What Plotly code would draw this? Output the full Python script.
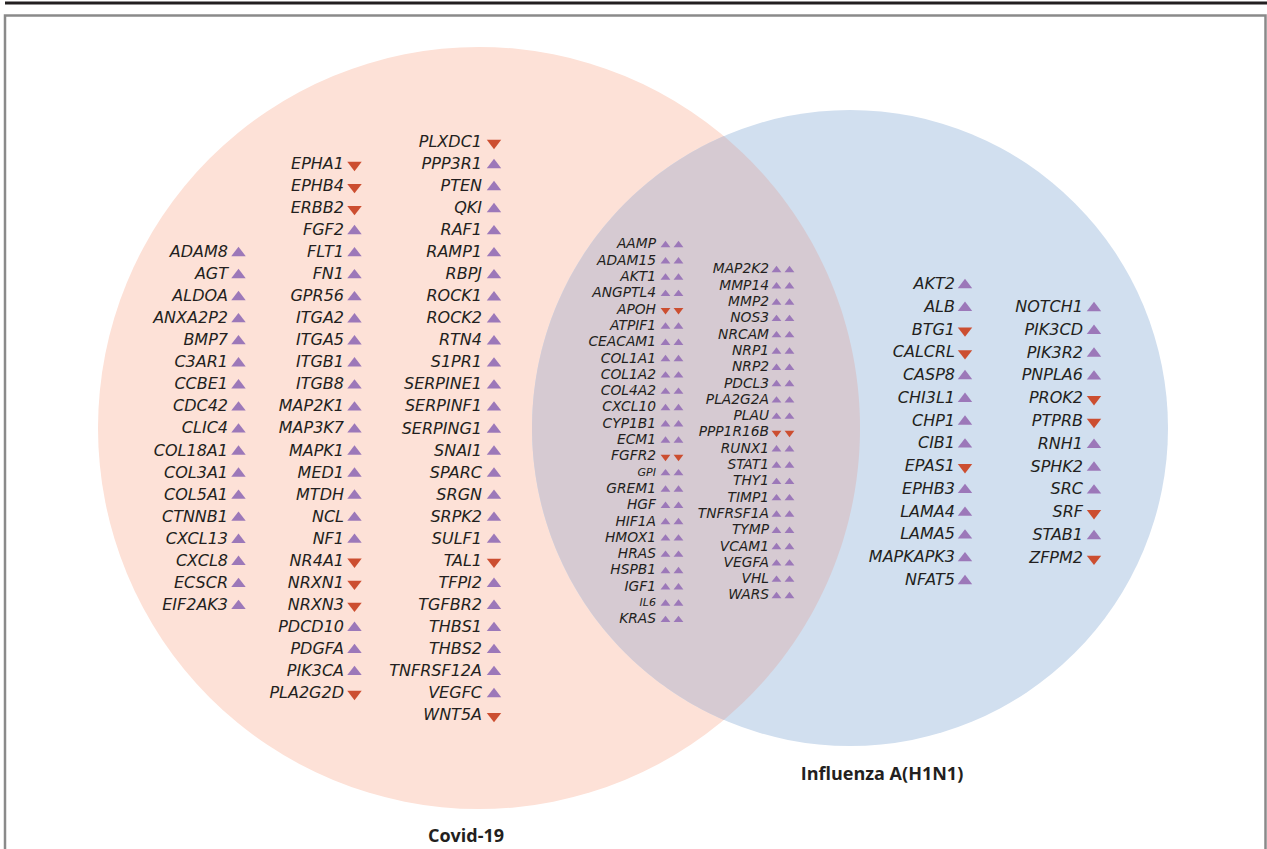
import numpy as np
import plotly.graph_objects as go

# ---------------- data ----------------
covid_col1_genes = ["ADAM8", "AGT", "ALDOA", "ANXA2P2", "BMP7", "C3AR1", "CCBE1", "CDC42", "CLIC4",
                    "COL18A1", "COL3A1", "COL5A1", "CTNNB1", "CXCL13", "CXCL8", "ECSCR", "EIF2AK3"]
covid_col1_dir = ["up"] * 17

covid_col2_genes = ["EPHA1", "EPHB4", "ERBB2", "FGF2", "FLT1", "FN1", "GPR56", "ITGA2", "ITGA5", "ITGB1",
                    "ITGB8", "MAP2K1", "MAP3K7", "MAPK1", "MED1", "MTDH", "NCL", "NF1", "NR4A1", "NRXN1",
                    "NRXN3", "PDCD10", "PDGFA", "PIK3CA", "PLA2G2D"]
covid_col2_dir = ["down", "down", "down", "up", "up", "up", "up", "up", "up", "up",
                  "up", "up", "up", "up", "up", "up", "up", "up", "down", "down",
                  "down", "up", "up", "up", "down"]

covid_col3_genes = ["PLXDC1", "PPP3R1", "PTEN", "QKI", "RAF1", "RAMP1", "RBPJ", "ROCK1", "ROCK2", "RTN4",
                    "S1PR1", "SERPINE1", "SERPINF1", "SERPING1", "SNAI1", "SPARC", "SRGN", "SRPK2", "SULF1",
                    "TAL1", "TFPI2", "TGFBR2", "THBS1", "THBS2", "TNFRSF12A", "VEGFC", "WNT5A"]
covid_col3_dir = ["down", "up", "up", "up", "up", "up", "up", "up", "up", "up",
                  "up", "up", "up", "up", "up", "up", "up", "up", "up",
                  "down", "up", "up", "up", "up", "up", "up", "down"]

shared_col1_genes = ["AAMP", "ADAM15", "AKT1", "ANGPTL4", "APOH", "ATPIF1", "CEACAM1", "COL1A1", "COL1A2",
                     "COL4A2", "CXCL10", "CYP1B1", "ECM1", "FGFR2", "GPI", "GREM1", "HGF", "HIF1A", "HMOX1",
                     "HRAS", "HSPB1", "IGF1", "IL6", "KRAS"]
shared_col1_dir = ["up", "up", "up", "up", "down", "up", "up", "up", "up",
                   "up", "up", "up", "up", "down", "up", "up", "up", "up", "up",
                   "up", "up", "up", "up", "up"]

shared_col2_genes = ["MAP2K2", "MMP14", "MMP2", "NOS3", "NRCAM", "NRP1", "NRP2", "PDCL3", "PLA2G2A", "PLAU",
                     "PPP1R16B", "RUNX1", "STAT1", "THY1", "TIMP1", "TNFRSF1A", "TYMP", "VCAM1", "VEGFA",
                     "VHL", "WARS"]
shared_col2_dir = ["up"] * 10 + ["down"] + ["up"] * 10

flu_col1_genes = ["AKT2", "ALB", "BTG1", "CALCRL", "CASP8", "CHI3L1", "CHP1", "CIB1", "EPAS1", "EPHB3",
                  "LAMA4", "LAMA5", "MAPKAPK3", "NFAT5"]
flu_col1_dir = ["up", "up", "down", "down", "up", "up", "up", "up", "down", "up",
                "up", "up", "up", "up"]

flu_col2_genes = ["NOTCH1", "PIK3CD", "PIK3R2", "PNPLA6", "PROK2", "PTPRB", "RNH1", "SPHK2", "SRC", "SRF",
                  "STAB1", "ZFPM2"]
flu_col2_dir = ["up", "up", "up", "up", "down", "down", "up", "up", "up", "down",
                "up", "down"]

set_labels = ["Covid-19", "Influenza A(H1N1)"]

# ---------------- style / layout ----------------
W, H = 1267, 849
UP_COLOR = "#9c78b9"
DOWN_COLOR = "#cc4e30"
TEXT_COLOR = "#231f20"
PINK = "#fde1d7"
BLUE = "#d1dfef"
LENS = "#d6cad2"
GENE_FONT = "DejaVu Sans"
LABEL_FONT = "Open Sans"

# circle geometry (pixel space)
c1x, c1y, r1 = 479, 428, 381
c2x, c2y, r2 = 850, 428, 318

fig = go.Figure()

# columns: (genes, dirs, text right x, marker x list, first y, spacing, font size, marker size)
columns = [
    (covid_col1_genes, covid_col1_dir, 228, [238.5], 253, 22.06, 16, 12.5),
    (covid_col2_genes, covid_col2_dir, 344, [354.5], 165, 22.04, 16, 12.5),
    (covid_col3_genes, covid_col3_dir, 482, [494], 143, 22.04, 16, 12.5),
    (shared_col1_genes, shared_col1_dir, 656, [665.5, 678.5], 245, 16.3, 13.8, 8.5),
    (shared_col2_genes, shared_col2_dir, 769, [776.5, 789.5], 270, 16.3, 13.8, 8.5),
    (flu_col1_genes, flu_col1_dir, 955, [965], 285, 22.77, 16, 12.5),
    (flu_col2_genes, flu_col2_dir, 1083, [1094], 308, 22.8, 16, 12.5),
]

small_names = {"GPI", "IL6"}

for genes, dirs, tx, mxs, y0, dy, fs, ms in columns:
    ys = [y0 + i * dy for i in range(len(genes))]
    sizes = [fs * 0.8 if g in small_names else fs for g in genes]
    fig.add_trace(go.Scatter(
        x=[tx] * len(genes), y=ys, text=genes, mode="text",
        textposition="middle left",
        textfont=dict(family=GENE_FONT, size=sizes, color=TEXT_COLOR, style="italic"),
        hoverinfo="skip", showlegend=False,
    ))
    for mx in mxs:
        fig.add_trace(go.Scatter(
            x=[mx] * len(genes), y=ys, mode="markers",
            marker=dict(
                symbol=["triangle-up" if d == "up" else "triangle-down" for d in dirs],
                color=[UP_COLOR if d == "up" else DOWN_COLOR for d in dirs],
                size=ms, line=dict(width=0),
            ),
            hoverinfo="skip", showlegend=False,
        ))

# set labels
fig.add_trace(go.Scatter(
    x=[466, 882], y=[837, 775], text=[f"<b>{s}</b>" for s in set_labels], mode="text",
    textposition="middle center",
    textfont=dict(family=LABEL_FONT, size=18, color=TEXT_COLOR),
    hoverinfo="skip", showlegend=False,
))

# lens path (intersection of two circles)
d = c2x - c1x
a = (d ** 2 + r1 ** 2 - r2 ** 2) / (2 * d)
h = np.sqrt(r1 ** 2 - a ** 2)
t1 = np.arctan2(h, a)
t2 = np.arctan2(h, d - a)
ang1 = np.linspace(-t1, t1, 150)                    # pink arc, top -> bottom
ang2 = np.linspace(np.pi + t2, np.pi - t2, 150)     # blue arc
pts1 = np.column_stack([c1x + r1 * np.cos(ang1), c1y + r1 * np.sin(ang1)])
pts2 = np.column_stack([c2x + r2 * np.cos(ang2), c2y - r2 * np.sin(ang2)])
if pts2[0, 1] < pts2[-1, 1]:
    pts2 = pts2[::-1]
poly = np.vstack([pts1, pts2])
path = "M " + " L ".join(f"{x:.2f},{y:.2f}" for x, y in poly) + " Z"

shapes = [
    dict(type="circle", xref="x", yref="y", x0=c1x - r1, x1=c1x + r1, y0=c1y - r1, y1=c1y + r1,
         fillcolor=PINK, line=dict(width=0), layer="below"),
    dict(type="circle", xref="x", yref="y", x0=c2x - r2, x1=c2x + r2, y0=c2y - r2, y1=c2y + r2,
         fillcolor=BLUE, line=dict(width=0), layer="below"),
    dict(type="path", xref="x", yref="y", path=path, fillcolor=LENS, line=dict(width=0), layer="below"),
    # frame
    dict(type="line", xref="x", yref="y", x0=5, x1=W + 2, y0=3, y1=3, line=dict(color="#231f20", width=3)),
    dict(type="path", xref="x", yref="y", path=f"M 5,{H + 5} L 5,15.5 L 1265.5,15.5 L 1265.5,{H + 5}",
         line=dict(color="#8a8a8a", width=2.5), layer="above"),
]

fig.update_layout(
    width=W, height=H,
    margin=dict(l=0, r=0, t=0, b=0),
    paper_bgcolor="white", plot_bgcolor="white",
    xaxis=dict(range=[0, W], visible=False, fixedrange=True),
    yaxis=dict(range=[H, 0], visible=False, fixedrange=True),
    shapes=shapes,
    showlegend=False,
)

fig.write_html("out.html", config={"displayModeBar": False},
               post_script="document.body.style.margin='0px';document.body.style.overflow='hidden';")
